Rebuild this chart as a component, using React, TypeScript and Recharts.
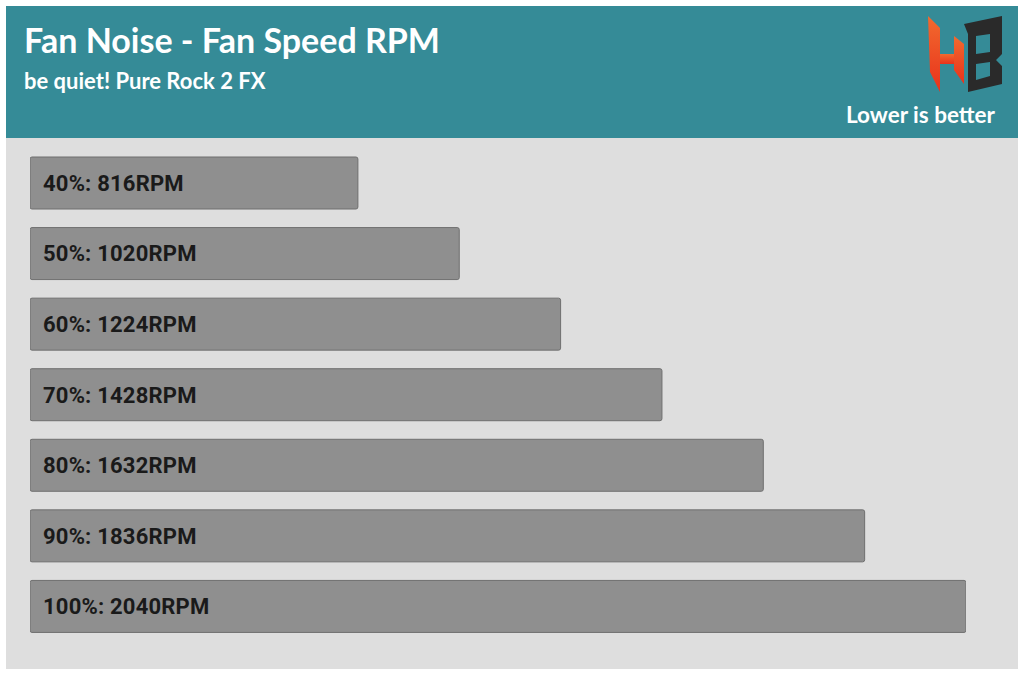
import { Bar, BarChart, LabelList, XAxis, YAxis } from "recharts";

const fanLevels = ["40%", "50%", "60%", "70%", "80%", "90%", "100%"];
const fanRpm = [816, 1020, 1224, 1428, 1632, 1836, 2040];

const data = fanLevels.map((level, i) => ({ level, rpm: fanRpm[i] }));

const BarText = (props: any) => {
  const { x = 0, y = 0, height = 0, index = 0 } = props;
  const entry = data[index];
  return (
    <text
      x={x + 13}
      y={y + height / 2 + 2}
      dominantBaseline="middle"
      fill="#1a1a1a"
      fontFamily="Roboto, 'DejaVu Sans Condensed', sans-serif"
      fontWeight={700}
      fontSize={22}
      letterSpacing={0.2}
    >
      {`${entry.level}: ${entry.rpm}RPM`}
    </text>
  );
};

const Logo = () => (
  <svg
    width={80}
    height={80}
    viewBox="0 0 80 80"
    style={{ position: "absolute", left: 926, top: 14 }}
  >
    <defs>
      <linearGradient id="logo-orange" x1="0" y1="0" x2="0" y2="1">
        <stop offset="0%" stopColor="#f26a2e" />
        <stop offset="100%" stopColor="#e8321c" />
      </linearGradient>
    </defs>
    <polygon points="2,2 14,14 14,78 4,58" fill="url(#logo-orange)" />
    <polygon points="14,40 34,40 34,50 14,50" fill="url(#logo-orange)" />
    <polygon points="28,22 38,30 38,70 28,56" fill="url(#logo-orange)" />
    <polygon
      points="38,10 76,2 76,40 70,46 76,52 76,70 42,78 42,20"
      fill="#2a2a2a"
    />
    <polygon points="50,22 64,20 64,38 50,40" fill="#358b97" />
    <polygon points="50,50 64,48 64,62 50,66" fill="#358b97" />
  </svg>
);

export default function App() {
  return (
    <div
      style={{
        position: "fixed",
        left: 0,
        top: 0,
        width: 1024,
        height: 675,
        background: "#ffffff",
        overflow: "hidden",
      }}
    >
      <div
        style={{
          position: "absolute",
          left: 6,
          top: 6,
          width: 1012,
          height: 132,
          background: "#358b97",
        }}
      />
      <div
        style={{
          position: "absolute",
          left: 6,
          top: 138,
          width: 1012,
          height: 531,
          background: "#dedede",
        }}
      />
      <div
        style={{
          position: "absolute",
          left: 24,
          top: 19,
          color: "#ffffff",
          fontFamily: "Lato, 'Open Sans', sans-serif",
          fontWeight: 700,
          fontSize: 34,
          lineHeight: "42px",
        }}
      >
        Fan Noise - Fan Speed RPM
      </div>
      <div
        style={{
          position: "absolute",
          left: 24,
          top: 66,
          color: "#ffffff",
          fontFamily: "Lato, 'Open Sans', sans-serif",
          fontWeight: 700,
          fontSize: 22,
          lineHeight: "30px",
        }}
      >
        be quiet! Pure Rock 2 FX
      </div>
      <div
        style={{
          position: "absolute",
          right: 29,
          top: 100,
          color: "#ffffff",
          fontFamily: "Lato, 'Open Sans', sans-serif",
          fontWeight: 700,
          fontSize: 22.5,
          lineHeight: "30px",
        }}
      >
        Lower is better
      </div>
      <Logo />
      <div style={{ position: "absolute", left: 0, top: 0 }}>
        <BarChart
          width={1024}
          height={675}
          data={data}
          layout="vertical"
          margin={{ top: 148, right: 58, bottom: 33, left: 30 }}
        >
          <XAxis
            type="number"
            dataKey="rpm"
            domain={[156, 2040]}
            allowDataOverflow
            hide
          />
          <YAxis type="category" dataKey="level" hide />
          <Bar
            dataKey="rpm"
            barSize={52}
            fill="#8f8f8f"
            stroke="#6f6f6f"
            strokeWidth={1}
            radius={2}
            isAnimationActive={false}
          >
            <LabelList dataKey="rpm" content={<BarText />} />
          </Bar>
        </BarChart>
      </div>
    </div>
  );
}
